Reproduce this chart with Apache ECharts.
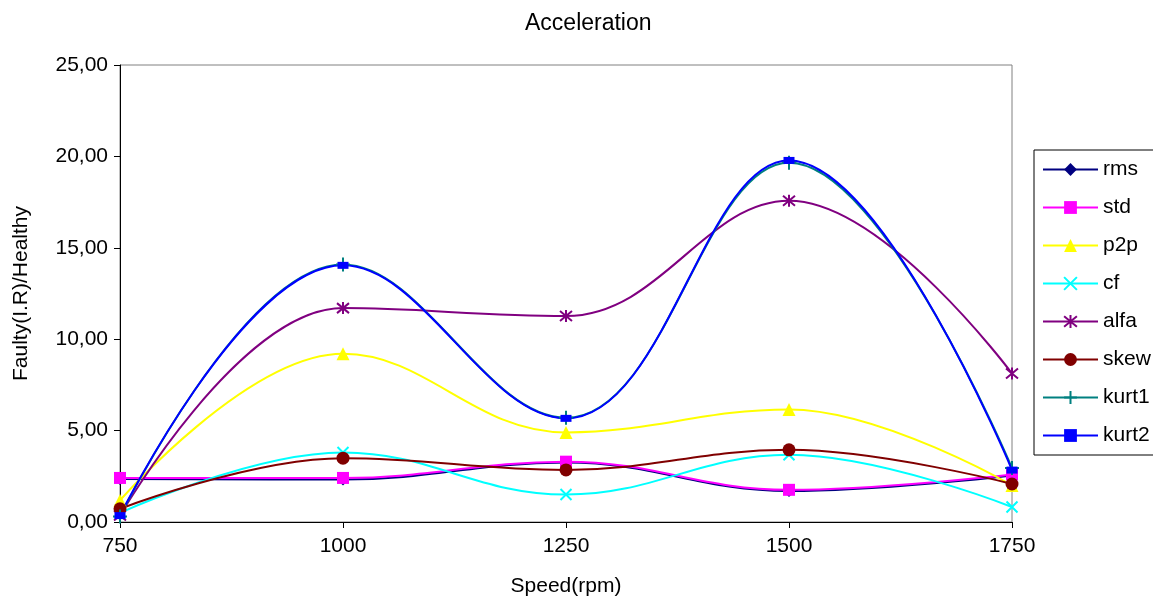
<!DOCTYPE html>
<html>
<head>
<meta charset="utf-8">
<title>Acceleration</title>
<script src="https://cdn.jsdelivr.net/npm/echarts@6/dist/echarts.min.js"></script>
<style>
  html, body { margin: 0; padding: 0; background: #fff; }
  #chart { width: 1153px; height: 602px; }
</style>
</head>
<body>
<div id="chart"></div>
<script>
// Speed steps (rpm)
const speeds = [750, 1000, 1250, 1500, 1750];

// Faulty (inner race) / healthy ratios per feature
const rms   = [2.35, 2.32, 3.25, 1.70, 2.55];
const std   = [2.41, 2.41, 3.30, 1.76, 2.60];
const p2p   = [1.18, 9.20, 4.90, 6.16, 2.00];
const cf    = [0.50, 3.80, 1.50, 3.68, 0.82];
const alfa  = [0.35, 11.70, 11.27, 17.57, 8.12];
const skew  = [0.72, 3.49, 2.85, 3.95, 2.08];
const kurt1 = [0.30, 14.09, 5.70, 19.65, 2.95];
const kurt2 = [0.35, 14.04, 5.67, 19.78, 2.84];

const yTicks = [0, 5, 10, 15, 20, 25];

const FONT = '"Liberation Sans", Arial, sans-serif';

const pairs = vals => speeds.map((s, i) => [s, vals[i]]);

function line(name, vals, color, symbol, size, extra) {
  return Object.assign({
    name: name,
    type: 'line',
    data: pairs(vals),
    smooth: 0.4,
    symbol: symbol,
    symbolSize: size,
    showSymbol: true,
    lineStyle: { color: color, width: 2 },
    itemStyle: { color: color, borderColor: color, borderWidth: 0 },
    emphasis: { disabled: true },
    animation: false
  }, extra || {});
}

const crossPath = 'path://M0,0L10,10M10,0L0,10';
const starPath  = 'path://M0,0L10,10M10,0L0,10M5,-1L5,11';
const plusPath  = 'path://M5,0L5,10M0,5L10,5';

const series = [
  line('rms',   rms,   '#000080', 'diamond', 12),
  line('std',   std,   '#FF00FF', 'rect', 12),
  line('p2p',   p2p,   '#FFFF00', 'triangle', 13),
  line('cf',    cf,    '#00FFFF', crossPath, 11, { itemStyle: { color: 'none', borderColor: '#00FFFF', borderWidth: 2 } }),
  line('alfa',  alfa,  '#800080', starPath, 12, { itemStyle: { color: 'none', borderColor: '#800080', borderWidth: 2 } }),
  line('skew',  skew,  '#800000', 'circle', 13),
  line('kurt1', kurt1, '#008080', plusPath, 14, { itemStyle: { color: 'none', borderColor: '#008080', borderWidth: 2 } }),
  line('kurt2', kurt2, '#0000FF', 'rect', [11, 7])
];

const chart = echarts.init(document.getElementById('chart'), null, { renderer: 'canvas' });
chart.setOption({
  backgroundColor: '#ffffff',
  animation: false,
  textStyle: { fontFamily: FONT },
  title: {
    text: 'Acceleration',
    left: 520,
    top: 7,
    textStyle: { fontFamily: FONT, fontSize: 23, fontWeight: 'normal', color: '#000' }
  },
  grid: {
    left: 120, right: 141, top: 65, bottom: 77,
    show: true, borderColor: '#808080', borderWidth: 1, backgroundColor: '#fff'
  },
  legend: {
    orient: 'vertical',
    left: 1034,
    top: 150,
    padding: [9, 8, 9, 8],
    itemGap: 17,
    itemWidth: 55,
    itemHeight: 16,
    borderColor: '#000',
    borderWidth: 1,
    textStyle: { fontFamily: FONT, fontSize: 21, color: '#000' },
    data: series.map(s => s.name)
  },
  xAxis: {
    type: 'value',
    min: speeds[0],
    max: speeds[speeds.length - 1],
    interval: 250,
    name: 'Speed(rpm)',
    nameLocation: 'middle',
    nameGap: 54,
    nameTextStyle: { fontFamily: FONT, fontSize: 21, color: '#000' },
    axisLine: { lineStyle: { color: '#000', width: 1 } },
    axisTick: { show: true, length: 6, lineStyle: { color: '#000' } },
    axisLabel: { fontFamily: FONT, fontSize: 21, color: '#000', margin: 14, formatter: v => String(v) },
    splitLine: { show: false }
  },
  yAxis: {
    type: 'value',
    min: yTicks[0],
    max: yTicks[yTicks.length - 1],
    interval: 5,
    name: 'Faulty(I.R)/Healthy',
    nameLocation: 'middle',
    nameGap: 88,
    nameTextStyle: { fontFamily: FONT, fontSize: 21, color: '#000' },
    axisLine: { show: true, lineStyle: { color: '#000', width: 1 } },
    axisTick: { show: true, length: 6, lineStyle: { color: '#000' } },
    axisLabel: {
      fontFamily: FONT, fontSize: 21, color: '#000', margin: 12,
      formatter: v => v.toFixed(2).replace('.', ',')
    },
    splitLine: { show: false }
  },
  series: series
});
</script>
</body>
</html>
